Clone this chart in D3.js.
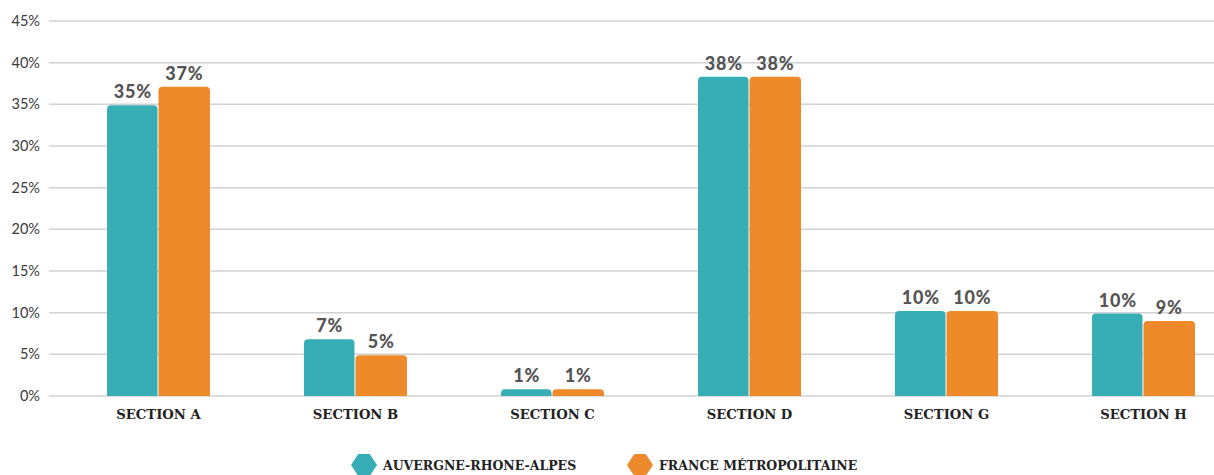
<!DOCTYPE html>
<html><head><meta charset="utf-8">
<script src="https://cdn.jsdelivr.net/npm/d3@7"></script>
<style>body{margin:0;background:#fff}</style>
</head><body><svg id="c" width="1214" height="475"></svg>
<script>
const categories = ["SECTION A","SECTION B","SECTION C","SECTION D","SECTION G","SECTION H"];
const seriesNames = ["AUVERGNE-RHONE-ALPES","FRANCE MÉTROPOLITAINE"];
const auvergne = [34.9, 6.8, 0.8, 38.3, 10.2, 9.9];
const france   = [37.1, 4.9, 0.8, 38.3, 10.2, 9.0];
const auvergneLabels = ["35%","7%","1%","38%","10%","10%"];
const franceLabels   = ["37%","5%","1%","38%","10%","9%"];
const yTicks = [0,5,10,15,20,25,30,35,40,45];
const colors = ["#37AEB5","#EE8A29"];

const svg = d3.select("#c");
const y = d3.scaleLinear().domain([0,45]).range([396,21]);
const x0 = d3.scaleBand().domain(categories).range([60,1242]);
const groupW = 103;
const x1 = d3.scaleBand().domain(seriesNames).range([0,groupW]);

svg.append("g").selectAll("line").data(yTicks).join("line")
  .attr("x1",49).attr("x2",1214).attr("y1",d=>y(d)).attr("y2",d=>y(d))
  .attr("stroke","#d2d2d2").attr("stroke-width",1.5);
svg.append("g").selectAll("text").data(yTicks).join("text")
  .attr("x",40).attr("y",d=>y(d)).attr("dy","0.35em").attr("text-anchor","end")
  .attr("font-family","Lato, sans-serif").attr("font-size",14.5).attr("fill","#3a3a3a")
  .text(d=>d+"%");

const series = [auvergne, france];
const labels = [auvergneLabels, franceLabels];
function barPath(x, w, top, bottom, r){
  r = Math.min(r, (bottom-top));
  return `M${x},${bottom}V${top+r}Q${x},${top} ${x+r},${top}H${x+w-r}Q${x+w},${top} ${x+w},${top+r}V${bottom}Z`;
}
series.forEach((vals, si) => {
  const g = svg.append("g");
  categories.forEach((c, i) => {
    const gx = x0(c) + (x0.bandwidth()-groupW)/2 + x1(seriesNames[si]);
    const w = x1.bandwidth() - (si===0?1:0);
    g.append("path").attr("d", barPath(gx, w, y(vals[i]), y(0), 4)).attr("fill", colors[si]);
    g.append("text").attr("x", gx + x1.bandwidth()/2).attr("y", y(vals[i]) - 7)
      .attr("text-anchor","middle").attr("font-family","Lato, sans-serif").attr("font-weight",900)
      .attr("font-size",18).attr("letter-spacing",0.8).attr("fill","#555").text(labels[si][i]);
  });
});

svg.append("g").selectAll("text").data(categories).join("text")
  .attr("x", d=>x0(d)+x0.bandwidth()/2).attr("y",419).attr("text-anchor","middle")
  .attr("font-family","'DejaVu Serif', serif").attr("font-weight","bold").attr("font-size",13.2)
  .attr("fill","#222").text(d=>d);

const legX = [364, 640];
function hex(cx, cy, w, h){
  const a = w/2, q = w*0.28;
  return `M${cx-a},${cy}L${cx-a+q},${cy-h/2}H${cx+a-q}L${cx+a},${cy}L${cx+a-q},${cy+h/2}H${cx-a+q}Z`;
}
seriesNames.forEach((s, i) => {
  svg.append("path").attr("d", hex(legX[i], 465, 26, 22)).attr("fill", colors[i]);
  svg.append("text").attr("x", legX[i]+19).attr("y", 470).attr("font-family","'DejaVu Serif', serif")
    .attr("font-weight","bold").attr("font-size",12.5).attr("fill","#222").text(s);
});
</script></body></html>
